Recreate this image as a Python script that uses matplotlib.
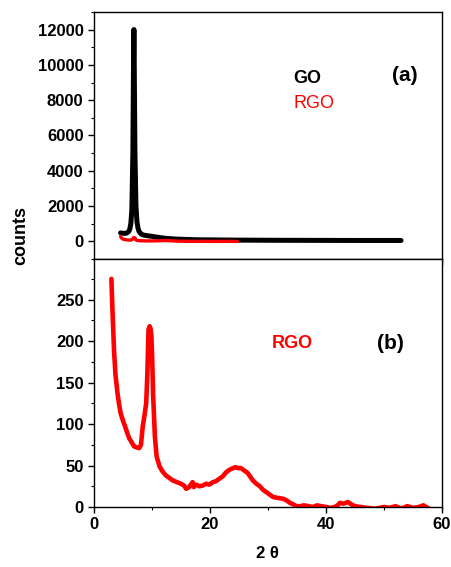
import numpy as np
import matplotlib.pyplot as plt
from matplotlib.ticker import MultipleLocator, NullFormatter

plt.rcParams['font.family'] = ['Liberation Sans', 'DejaVu Sans']
plt.rcParams['font.weight'] = 'bold'

# GO pattern (upper panel)
go_x = [3, 4, 5, 6, 7, 7.5, 8, 8.5, 9, 9.3, 9.5, 9.7, 10, 10.5, 11, 11.5, 12,
        13, 14, 16, 18, 20, 25, 30, 40, 60, 80, 100, 120, 140]
go_y = [480, 460, 450, 470, 560, 700, 1000, 1800, 5000, 10000, 12000, 9500,
        5000, 2000, 1100, 750, 560, 420, 360, 320, 290, 250, 170, 130, 90, 70,
        60, 55, 50, 50]

# RGO pattern
rgo_x = [3.0, 3.2, 3.46, 3.7, 4.04, 4.3, 4.6, 5.0, 5.37, 5.7, 6.06, 6.5, 6.92,
         7.3, 7.8, 8.1, 8.4, 8.7, 9.0, 9.2, 9.4, 9.6, 9.75, 9.9, 10.05, 10.2,
         10.5, 10.8, 11.3, 11.8, 12.4, 13.0, 13.6, 14.3, 15.0, 15.5, 15.9, 16.4,
         17.0, 17.2, 17.6, 18.2, 18.8, 19.3, 19.9, 20.5, 21.0, 21.6, 22.2, 22.8,
         23.4, 24.0, 24.4, 24.8, 25.3, 25.7, 26.1, 26.5, 27.0, 27.4, 28.0, 28.6,
         29.1, 29.7, 30.3, 30.9, 31.7, 32.6, 33.2, 33.8, 34.4, 34.9, 35.5, 36.2,
         37.0, 37.8, 38.4, 39.2, 40.0, 40.8, 41.5, 42.0, 42.4, 43.0, 43.8, 44.4,
         45.0, 46.0, 47.0, 48.5, 50.0, 51.0, 52.0, 53.0, 54.0, 55.0, 56.0, 56.8,
         58.0, 60.0]
rgo_y = [275, 235, 188, 160, 138, 125, 113, 104, 97, 90, 83, 78, 73,
         72, 71, 75, 97, 110, 125, 160, 214, 218, 215, 206, 175, 134,
         85, 61, 49, 43, 38, 35, 32, 30, 28, 26, 22, 24,
         30, 24, 27, 25, 26, 28, 27, 30, 31, 34, 37, 42,
         45, 47, 48, 47, 47, 45, 43, 41, 36, 32, 28, 25,
         21, 18, 15, 12, 11, 10, 8, 5, 3, 1, 1, 2,
         1, 0, 2, 1, 0, -1, 0, 2, 5, 4, 6, 3,
         1, 0, -1, -2, 0, -1, 1, -2, 1, -1, 0, 2,
         -3, -3]

fig = plt.figure(figsize=(4.51, 5.67), dpi=100)
ax1 = fig.add_axes([0.2084, 0.5432, 0.7716, 0.4358])
ax2 = fig.add_axes([0.2084, 0.1058, 0.7716, 0.4374])

ax1.plot(go_x, go_y, color='black', lw=3.6, solid_capstyle='round', zorder=2)
ax1.plot(rgo_x, rgo_y, color='red', lw=2.4, solid_capstyle='round', zorder=3)
ax1.set_xlim(-10, 160)
ax1.set_ylim(-1000, 13000)
ax1.xaxis.set_major_locator(MultipleLocator(20))
ax1.xaxis.set_minor_locator(MultipleLocator(10))
ax1.xaxis.set_major_formatter(NullFormatter())
ax1.yaxis.set_major_locator(MultipleLocator(2000))
ax1.yaxis.set_minor_locator(MultipleLocator(1000))
ax1.text(0.572, 0.729, 'GO', transform=ax1.transAxes, color='black',
         fontsize=13, fontweight='bold', ha='left', va='center')
ax1.text(0.572, 0.628, 'RGO', transform=ax1.transAxes, color='red',
         fontsize=13, fontweight='normal', ha='left', va='center')
ax1.text(0.894, 0.741, '(a)', transform=ax1.transAxes, color='black',
         fontsize=15, fontweight='bold', ha='center', va='center')

ax2.plot(rgo_x, rgo_y, color='red', lw=3.3, solid_capstyle='round')
ax2.set_xlim(0, 60)
ax2.set_ylim(0, 299)
ax2.xaxis.set_major_locator(MultipleLocator(20))
ax2.xaxis.set_minor_locator(MultipleLocator(10))
ax2.yaxis.set_major_locator(MultipleLocator(50))
ax2.yaxis.set_minor_locator(MultipleLocator(25))
ax2.text(0.511, 0.661, 'RGO', transform=ax2.transAxes, color='red',
         fontsize=13, fontweight='bold', ha='left', va='center')
ax2.text(0.853, 0.661, '(b)', transform=ax2.transAxes, color='black',
         fontsize=15, fontweight='bold', ha='center', va='center')

for ax in (ax1, ax2):
    for sp in ax.spines.values():
        sp.set_linewidth(1.0)
        sp.set_zorder(5)
    ax.tick_params(which='major', direction='out', length=4.5, width=1.0,
                   labelsize=12, pad=3)
    ax.tick_params(which='minor', direction='out', length=2.5, width=0.8)
    ax.tick_params(which='both', top=False, right=False)
    for lbl in ax.get_xticklabels() + ax.get_yticklabels():
        lbl.set_fontweight('bold')

fig.text(0.045, 0.584, 'counts', rotation=90, fontsize=13, fontweight='bold',
         ha='center', va='center')
fig.text(0.594, 0.01, '2 θ', fontsize=12, fontweight='bold',
         ha='center', va='bottom')

fig.savefig('out.png', dpi=100)
